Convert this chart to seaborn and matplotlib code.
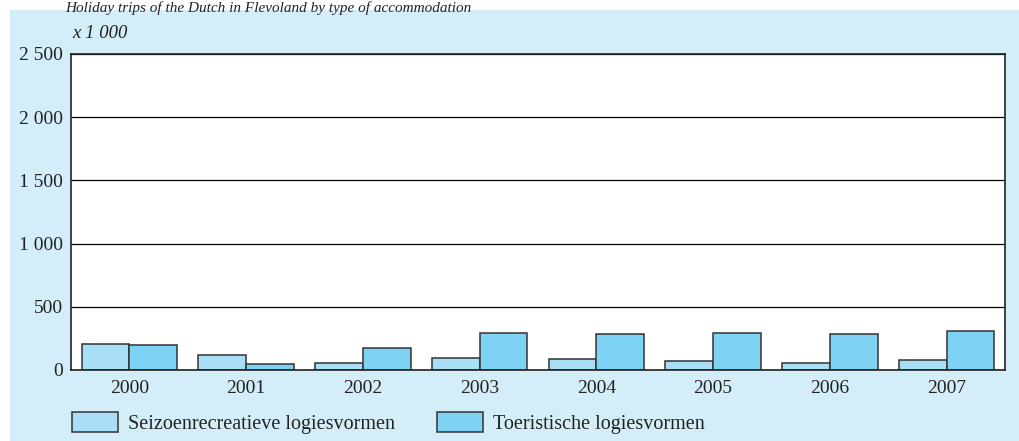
import matplotlib
matplotlib.use("Agg")
import matplotlib.pyplot as plt
from matplotlib.patches import Rectangle
from matplotlib.ticker import FuncFormatter
import pandas as pd
import seaborn as sns

years = ["2000", "2001", "2002", "2003", "2004", "2005", "2006", "2007"]
seizoen = [206, 119, 58, 97, 87, 69, 58, 77]
toeristisch = [198, 47, 176, 295, 287, 295, 287, 306]
series_names = ["Seizoenrecreatieve logiesvormen", "Toeristische logiesvormen"]
y_ticks = [0, 500, 1000, 1500, 2000, 2500]

df = pd.DataFrame({
    "jaar": years * 2,
    "waarde": seizoen + toeristisch,
    "soort": [series_names[0]] * len(years) + [series_names[1]] * len(years),
})

sns.set_theme(style="white")
plt.rcParams["font.family"] = ["Liberation Serif", "DejaVu Serif"]

W, H = 1019, 441
fig = plt.figure(figsize=(W / 100, H / 100), dpi=100, facecolor="white")
bg = "#d4eef9"
fig.patches.append(Rectangle((10 / W, 0), 1 - 10 / W, 1 - 10 / H,
                             transform=fig.transFigure, facecolor=bg,
                             edgecolor="none", zorder=-10))

ax = fig.add_axes([71 / W, 1 - 370 / H, (1005 - 71) / W, (370 - 54) / H])
ax.set_facecolor("white")

sns.barplot(data=df, x="jaar", y="waarde", hue="soort", ax=ax,
            palette=["#a9def7", "#7ed2f4"], width=0.82,
            edgecolor="#333333", linewidth=1.1, saturation=1)

ax.set_ylim(0, 2500)
ax.set_yticks(y_ticks)
ax.yaxis.set_major_formatter(FuncFormatter(lambda v, p: f"{int(v):,}".replace(",", " ")))
ax.grid(axis="y", color="black", linewidth=0.9)
ax.set_axisbelow(True)
for s in ax.spines.values():
    s.set_color("#222222")
    s.set_linewidth(1.2)
ax.tick_params(axis="both", length=0, labelsize=14, colors="#222222")
ax.tick_params(axis="x", pad=7)
ax.tick_params(axis="y", pad=6)
ax.set_xlabel("")
ax.set_ylabel("")

fig.text(72 / W, 1 - 33 / H, "x 1 000",
         fontsize=13.5, style="italic", color="#222222", va="center", ha="left")
fig.text(65 / W, 1 - 1 / H,
         "Holiday trips of the Dutch in Flevoland by type of accommodation",
         fontsize=11, style="italic", color="#222222", va="top", ha="left")

ax.legend(loc="upper left", bbox_to_anchor=(64 / W, 1 - 404 / H),
          bbox_transform=fig.transFigure, ncol=2, frameon=False,
          fontsize=14.5, handlelength=2.3, handleheight=1.15,
          handletextpad=0.5, columnspacing=2.05, borderaxespad=0,
          labelcolor="#222222")

fig.savefig("out.png", dpi=100, facecolor="white")
